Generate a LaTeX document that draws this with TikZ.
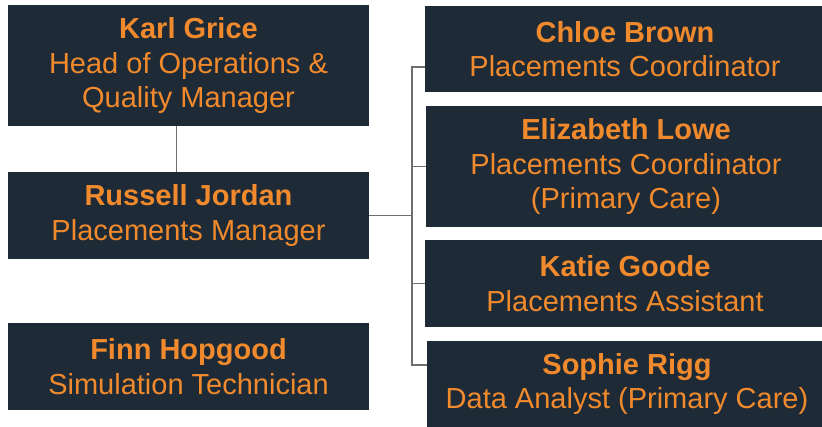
\documentclass[tikz,border=0pt]{standalone}
\usepackage{fontspec}
\setmainfont{Liberation Sans}
\usetikzlibrary{calc}
\definecolor{boxnavy}{HTML}{1F2A37}
\definecolor{roleorange}{HTML}{F08A2C}
\definecolor{linkgrey}{HTML}{6E6E6E}
\tikzset{
	staffbox/.style={fill=boxnavy, text=roleorange, align=center, inner sep=0pt,
		font=\fontsize{29}{34.5}\selectfont},
	leftbox/.style={staffbox, minimum width=361pt, minimum height=#1},
	rightbox/.style={staffbox, minimum width=400pt, minimum height=#1},
	link/.style={line width=1.5pt, color=linkgrey}
}
\begin{document}
\begin{tikzpicture}[x=1pt, y=-1pt]
			%%%%% START %%%%%
			\useasboundingbox[fill=white] (0, 0) rectangle (822, 426);
			
			\node[leftbox=121pt] (karl) at (188.5, 65.5) {\textbf{Karl Grice}\\Head of Operations \&\\Quality Manager};
			\node[leftbox=87pt] (russell) at (188.5, 215.5) {\textbf{Russell Jordan}\\Placements Manager};
			\node[leftbox=87pt] (finn) at (188.5, 366.5) {\textbf{Finn Hopgood}\\Simulation Technician};
			
			\node[rightbox=86pt] (chloe) at (625, 49) {\textbf{Chloe Brown}\\Placements Coordinator};
			\node[rightbox=121pt] (elizabeth) at (626, 166.5) {\textbf{Elizabeth Lowe}\\Placements Coordinator\\(Primary Care)};
			\node[rightbox=87pt] (katie) at (625, 283.5) {\textbf{Katie Goode}\\Placements Assistant};
			\node[rightbox=87pt] (sophie) at (627, 384) {\textbf{Sophie Rigg}\\Data Analyst (Primary Care)};
			
			\coordinate (bus) at (412, 216);
			
			\draw[link] ([xshift=-12pt]karl.south) -- ([xshift=-12pt]russell.north);
			\draw[link] (russell.east) -- (russell.east -| bus);
			\draw[link] ([yshift=-18pt]chloe.west) -- ([yshift=-18pt]chloe.west -| bus)
				-- ([yshift=19pt]sophie.west -| bus) -- ([yshift=19pt]sophie.west);
			\foreach \who in {elizabeth, katie}
				\draw[link] (\who.west -| bus) -- (\who.west);
			
			%%%%% END %%%%%
\end{tikzpicture}
\end{document}
